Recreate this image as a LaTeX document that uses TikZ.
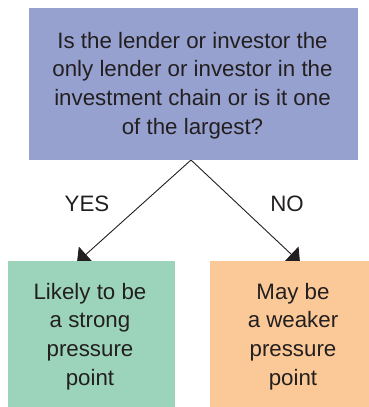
\documentclass[tikz,border=0pt]{standalone}
\usepackage{fontspec}
\setmainfont{Liberation Sans}
\usetikzlibrary{arrows.meta}
\definecolor{qblue}{RGB}{151,161,207}
\definecolor{ygreen}{RGB}{155,212,186}
\definecolor{norange}{RGB}{251,201,151}
\definecolor{ink}{RGB}{35,31,32}
\tikzset{
  box/.style={draw=none, inner sep=0pt, outer sep=0pt, anchor=north west},
  txt/.style={inner sep=0pt, align=center, text=ink,
    font=\fontsize{22.3}{28.8}\selectfont},
  lbl/.style={text=ink, font=\fontsize{22.3}{26}\selectfont, inner sep=0pt},
  conn/.style={draw=ink, line width=0.9pt, -{Triangle[length=12pt,width=21pt]}}
}
\begin{document}
\begin{tikzpicture}[x=1pt,y=1pt]
\useasboundingbox (0,0) rectangle (369,407);
\coordinate (apex) at (191,247);
\coordinate (yend) at (77,144.5);
\coordinate (nend) at (300,144.5);
\draw[conn] (apex) -- (yend);
\draw[conn] (apex) -- (nend);
\node[box, fill=qblue, minimum width=329pt, minimum height=152pt] (q) at (29,399) {};
\node[box, fill=ygreen, minimum width=167pt, minimum height=151pt] (y) at (8,146) {};
\node[box, fill=norange, minimum width=167pt, minimum height=151pt] (n) at (210,146) {};
\node[txt] (qt) at (192.5,321.5)
  {Is the lender or investor the\\only lender or investor in the\\investment chain or is it one\\of the largest?};
\node[txt] (yt) at (90,70.5) {Likely to be\\a strong\\pressure\\point};
\node[txt] (nt) at (293,70.5) {May be\\a weaker\\pressure\\point};
\node[lbl] (yes) at (87,203) {YES};
\node[lbl] (no) at (287,203) {NO};
\end{tikzpicture}
\end{document}
